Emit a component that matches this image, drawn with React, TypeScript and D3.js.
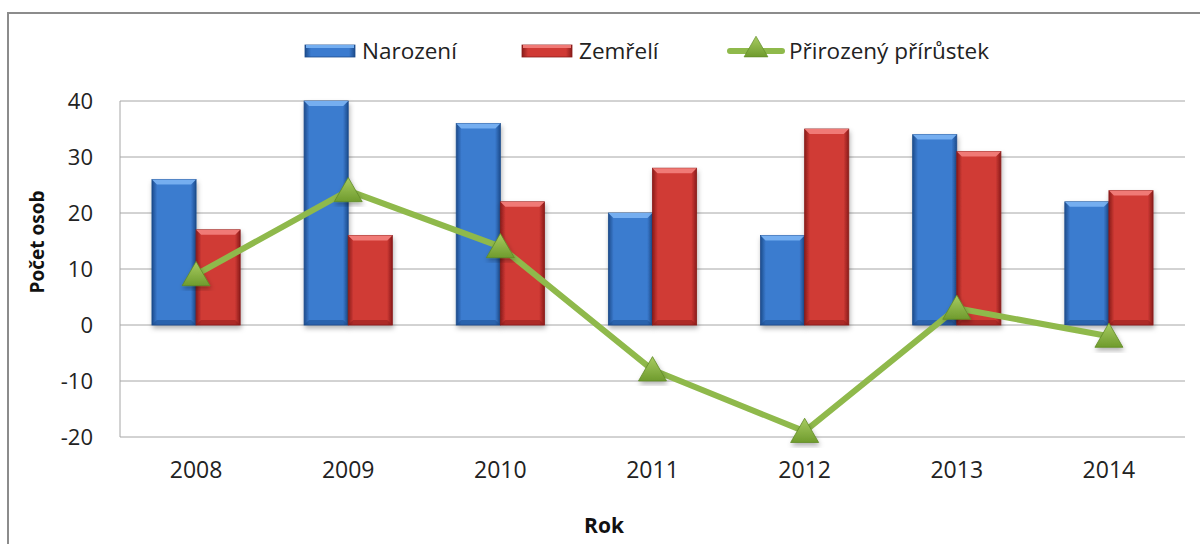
import * as d3 from 'd3'

const years = ['2008', '2009', '2010', '2011', '2012', '2013', '2014']
const narozeni = [26, 40, 36, 20, 16, 34, 22]
const zemreli = [17, 16, 22, 28, 35, 31, 24]
const prirustek = [9, 24, 14, -8, -19, 3, -2]
const yTicks = [-20, -10, 0, 10, 20, 30, 40]
const seriesNames = ['Narození', 'Zemřelí', 'Přirozený přírůstek']

const W = 1200
const H = 544
const font = '"Open Sans", "Noto Sans", sans-serif'

const palette = {
  blue: { main: '#3b7bcf', light: '#74aef0', dark: '#1d4c8c' },
  red: { main: '#d03a35', light: '#f07a76', dark: '#8a1c1a' },
}

type Pal = { main: string; light: string; dark: string }

const BevelBar = ({ x, y0, y1, w, pal, id }: { x: number; y0: number; y1: number; w: number; pal: Pal; id: string }) => {
  const top = Math.min(y0, y1)
  const h = Math.abs(y1 - y0)
  const b = Math.min(5, h / 2)
  return (
    <g filter="url(#shadow)">
      <rect x={x} y={top} width={w} height={h} fill={`url(#g-${id})`} stroke={pal.dark} strokeWidth={0.8} />
      <path d={`M${x},${top} L${x + w},${top} L${x + w - b},${top + b} L${x + b},${top + b} Z`} fill={pal.light} />
      <path d={`M${x},${top + h} L${x + w},${top + h} L${x + w - b},${top + h - b} L${x + b},${top + h - b} Z`} fill={pal.dark} opacity={0.5} />
    </g>
  )
}

export default function App() {
  const y = d3.scaleLinear().domain([-20, 40]).range([437, 101])
  const x = d3.scaleBand().domain(years).range([120, 1185]).paddingInner(0.42).paddingOuter(0.21)
  const xs = d3.scaleBand().domain(['n', 'z']).range([0, x.bandwidth()])
  const cx = (yr: string) => (x(yr) as number) + x.bandwidth() / 2

  const line = d3
    .line<number>()
    .x((d, i) => cx(years[i]))
    .y((d) => y(d))
  const tri = d3.symbol().type(d3.symbolTriangle).size(340)()

  const green = '#8fb94b'

  return (
    <div style={{ position: 'absolute', left: 0, top: 0 }}>
      <svg width={W} height={H} style={{ display: 'block', background: '#fff' }}>
        <defs>
          {Object.entries(palette).map(([k, p]) => (
            <linearGradient key={k} id={`g-${k}`} x1="0" x2="1" y1="0" y2="0">
              <stop offset="0" stopColor={p.dark} />
              <stop offset="0.12" stopColor={p.main} />
              <stop offset="0.5" stopColor={p.main} />
              <stop offset="0.88" stopColor={p.main} />
              <stop offset="1" stopColor={p.dark} />
            </linearGradient>
          ))}
          <linearGradient id="g-tri" x1="0" x2="0" y1="0" y2="1">
            <stop offset="0" stopColor="#a8cc62" />
            <stop offset="1" stopColor="#6f9b2d" />
          </linearGradient>
          <filter id="shadow" x="-20%" y="-20%" width="140%" height="140%">
            <feDropShadow dx="1" dy="3" stdDeviation="2.5" floodColor="#000" floodOpacity="0.3" />
          </filter>
        </defs>

        <rect x={8} y={13} width={1300} height={700} fill="none" stroke="#8c8c8c" strokeWidth={2} />

        {/* grid */}
        {yTicks.map((t) => (
          <g key={t}>
            <line x1={120} x2={1185} y1={y(t)} y2={y(t)} stroke="#a6a6a6" strokeWidth={1} />
            <text x={93} y={y(t) + 8} textAnchor="end" fontFamily={font} fontSize={22} fill="#222">
              {t}
            </text>
          </g>
        ))}
        <line x1={120} x2={120} y1={y(40)} y2={y(-20)} stroke="#a6a6a6" strokeWidth={1} />

        {/* bars */}
        {years.map((yr, i) => (
          <g key={yr}>
            <BevelBar x={(x(yr) as number) + (xs('n') as number)} y0={y(0)} y1={y(narozeni[i])} w={xs.bandwidth()} pal={palette.blue} id="blue" />
            <BevelBar x={(x(yr) as number) + (xs('z') as number)} y0={y(0)} y1={y(zemreli[i])} w={xs.bandwidth()} pal={palette.red} id="red" />
          </g>
        ))}

        {/* line */}
        <path d={line(prirustek) as string} fill="none" stroke={green} strokeWidth={6} strokeLinejoin="round" />
        {prirustek.map((v, i) => (
          <path
            key={i}
            d={tri as string}
            transform={`translate(${cx(years[i])},${y(v) + 3})`}
            fill="url(#g-tri)"
            stroke="#5f8a26"
            strokeWidth={0.8}
            filter="url(#shadow)"
          />
        ))}

        {/* x labels */}
        {years.map((yr) => (
          <text key={yr} x={cx(yr)} y={478} textAnchor="middle" fontFamily={font} fontSize={23} fill="#222">
            {yr}
          </text>
        ))}

        <text x={604} y={533} textAnchor="middle" fontFamily={font} fontSize={21} fontWeight="bold" fill="#111">
          Rok
        </text>
        <text transform="translate(44,242) rotate(-90)" textAnchor="middle" fontFamily={font} fontSize={19} fontWeight="bold" fill="#111">
          Počet osob
        </text>

        {/* legend */}
        <g fontFamily={font} fontSize={22.5} fill="#222">
          <rect x={305} y={45} width={50} height={12} fill="url(#g-blue)" stroke={palette.blue.dark} strokeWidth={0.8} />
          <rect x={306} y={45} width={48} height={3} fill={palette.blue.light} />
          <text x={362} y={59}>{seriesNames[0]}</text>
          <rect x={522} y={45} width={50} height={12} fill="url(#g-red)" stroke={palette.red.dark} strokeWidth={0.8} />
          <rect x={523} y={45} width={48} height={3} fill={palette.red.light} />
          <text x={579} y={59}>{seriesNames[1]}</text>
          <line x1={730} x2={782} y1={51} y2={51} stroke={green} strokeWidth={6} strokeLinecap="round" />
          <path d={tri as string} transform="translate(756,50) scale(0.85)" fill="url(#g-tri)" stroke="#5f8a26" strokeWidth={0.8} />
          <text x={789} y={59}>{seriesNames[2]}</text>
        </g>
      </svg>
    </div>
  )
}
